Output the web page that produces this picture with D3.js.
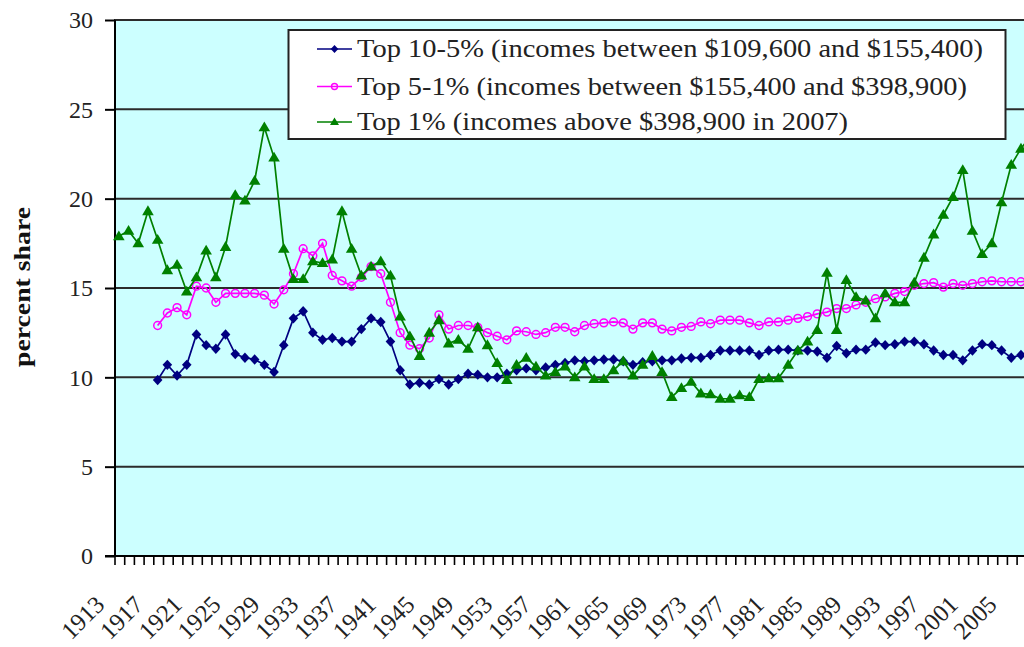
<!DOCTYPE html>
<html>
<head>
<meta charset="utf-8">
<script src="https://cdn.jsdelivr.net/npm/d3@7"></script>
<style>
  html, body { margin: 0; padding: 0; background: #ffffff; }
  svg { display: block; }
</style>
</head>
<body>
<svg id="chart" width="1024" height="647"></svg>
<script>
const FONT = "'Liberation Serif', 'Times New Roman', Times, 'DejaVu Serif', serif";
// ---------- DATA ----------
const years = d3.range(1913, 2008);
const yTicks = [0, 5, 10, 15, 20, 25, 30];
const xTickLabels = d3.range(1913, 2008, 4);
const seriesNames = [
  "Top 10-5% (incomes between $109,600 and $155,400)",
  "Top 5-1% (incomes between $155,400 and $398,900)",
  "Top 1% (incomes above $398,900 in 2007)"
];
// 1913-1916 have no values for the two lower groups
const top10to5 = [null, null, null, null,
  9.85, 10.7, 10.1, 10.7, 12.4, 11.8, 11.6, 12.4, 11.3, 11.1, 11.0, 10.7, 10.3,
  11.8, 13.3, 13.7, 12.5, 12.1, 12.2, 12.0, 12.0, 12.7, 13.3, 13.1, 12.0, 10.4,
  9.6, 9.7, 9.6, 9.9, 9.6, 9.9, 10.2, 10.15, 10.0, 10.0, 10.2, 10.4, 10.5, 10.4,
  10.55, 10.7, 10.8, 10.95, 10.9, 10.95, 11.0, 11.0, 10.9, 10.7, 10.85, 10.9, 10.95,
  10.95, 11.05, 11.1, 11.1, 11.25, 11.5, 11.5, 11.5, 11.5, 11.25, 11.5, 11.55, 11.55,
  11.5, 11.5, 11.45, 11.1, 11.75, 11.35, 11.55, 11.55, 11.95, 11.8, 11.85, 12.0,
  12.0, 11.85, 11.5, 11.25, 11.25, 10.95, 11.5, 11.85, 11.8, 11.5, 11.1, 11.25, 11.2];
const top5to1 = [null, null, null, null,
  12.9, 13.6, 13.9, 13.5, 15.1, 15.0, 14.2, 14.7, 14.7, 14.7, 14.7, 14.6, 14.1,
  14.9, 15.8, 17.2, 16.8, 17.5, 15.7, 15.4, 15.1, 15.6, 16.2, 15.8, 14.2, 12.5,
  11.8, 11.6, 12.2, 13.5, 12.7, 12.9, 12.9, 12.8, 12.5, 12.3, 12.1, 12.6, 12.55, 12.4,
  12.5, 12.8, 12.8, 12.55, 12.9, 13.0, 13.05, 13.1, 13.05, 12.7, 13.05, 13.05, 12.7,
  12.6, 12.8, 12.85, 13.1, 13.0, 13.2, 13.2, 13.2, 13.05, 12.9, 13.1, 13.1, 13.2,
  13.3, 13.4, 13.55, 13.65, 13.85, 13.85, 14.05, 14.2, 14.4, 14.5, 14.7, 14.8,
  15.15, 15.25, 15.3, 15.05, 15.25, 15.15, 15.25, 15.35, 15.4, 15.35, 15.35, 15.35, 15.4];
const top1 = [17.9, 18.2, 17.5, 19.3,
  17.7, 16.0, 16.3, 14.8, 15.6, 17.1, 15.6, 17.3, 20.2, 19.9, 21.0, 24.0, 22.3,
  17.2, 15.5, 15.5, 16.5, 16.4, 16.6, 19.3, 17.2, 15.7, 16.2, 16.5, 15.7, 13.4,
  12.3, 11.2, 12.5, 13.2, 11.9, 12.1, 11.6, 12.8, 11.8, 10.8, 9.85, 10.7, 11.1, 10.6,
  10.1, 10.3, 10.6, 10.0, 10.6, 9.9, 9.9, 10.4, 10.9, 10.1, 10.7, 11.2, 10.3,
  8.9, 9.4, 9.75, 9.1, 9.05, 8.8, 8.8, 9.0, 8.9, 9.9, 9.95, 9.95, 10.7,
  11.5, 12.0, 12.65, 15.85, 12.65, 15.45, 14.5, 14.3, 13.3, 14.7, 14.2, 14.2,
  15.3, 16.7, 18.0, 19.1, 20.1, 21.6, 18.2, 16.9, 17.5, 19.8, 21.9, 22.8, 23.5];
const seriesColors = ["#000080", "#FF00FF", "#008000"];

// ---------- LAYOUT ----------
const svg = d3.select("#chart");
const plotLeft = 114, step = 9.7;
const plotRight = plotLeft + step * years.length;   // extends beyond the picture edge
const plotTop = 20, plotBottom = 556;

const x = d3.scaleBand().domain(years).range([plotLeft, plotRight]).padding(0);
const y = d3.scaleLinear().domain([0, 30]).range([plotBottom, plotTop]);

svg.append("rect")
  .attr("x", plotLeft + 1).attr("y", plotTop)
  .attr("width", plotRight - plotLeft).attr("height", plotBottom - plotTop)
  .attr("fill", "#CCFFFF");

svg.append("g")
  .selectAll("line")
  .data(yTicks.filter(d => d > 0))
  .join("line")
  .attr("x1", plotLeft).attr("x2", plotRight)
  .attr("y1", d => y(d)).attr("y2", d => y(d))
  .attr("stroke", "#2b2b2b").attr("stroke-width", 2);

const yAxis = d3.axisLeft(y).tickValues(yTicks).tickSize(10).tickPadding(12).tickFormat(d3.format("d"));
const gy = svg.append("g").attr("transform", `translate(${plotLeft + 1},0)`).call(yAxis);
gy.attr("font-family", null);
gy.select(".domain").attr("stroke", "#000").attr("stroke-width", 2).attr("d", `M0,${plotTop}V${plotBottom}`);
gy.selectAll(".tick line").attr("stroke", "#000").attr("stroke-width", 2);
gy.selectAll(".tick text")
  .style("font-family", FONT)
  .attr("font-size", 24).attr("fill", "#222");

const gx = svg.append("g");
gx.append("line")
  .attr("x1", plotLeft - 9).attr("x2", plotRight)
  .attr("y1", plotBottom).attr("y2", plotBottom)
  .attr("stroke", "#000").attr("stroke-width", 2);
gx.selectAll("line.tk")
  .data(years)
  .join("line").attr("class", "tk")
  .attr("x1", d => x(d) + 1).attr("x2", d => x(d) + 1)
  .attr("y1", plotBottom).attr("y2", plotBottom + 9)
  .attr("stroke", "#000").attr("stroke-width", 1.6);

gx.selectAll("text.xl")
  .data(xTickLabels)
  .join("text").attr("class", "xl")
  .attr("transform", d => `translate(${x(d) + x.bandwidth() / 2 - 13},${606}) rotate(-45)`)
  .attr("text-anchor", "end")
  .style("font-family", FONT)
  .attr("font-size", 24.5).attr("fill", "#222")
  .text(d => d);

svg.append("text")
  .attr("transform", `translate(30,287) rotate(-90)`)
  .attr("text-anchor", "middle")
  .style("font-family", FONT)
  .attr("font-size", 24).attr("font-weight", "bold").attr("fill", "#111")
  .attr("textLength", 160).attr("lengthAdjust", "spacingAndGlyphs")
  .text("percent share");

// ---------- SERIES ----------
const cx = d => x(d) + x.bandwidth() / 2;
const diamond = "M0,-5.2L4.8,0L0,5.2L-4.8,0Z";
const triangle = "M0,-5.8L5.8,4L-5.8,4Z";
const allSeries = [top10to5, top5to1, top1];

const line = d3.line()
  .defined(d => d.v != null)
  .x(d => cx(d.year)).y(d => y(d.v));

allSeries.forEach((vals, i) => {
  const pts = years.map((yr, j) => ({ year: yr, v: vals[j] }));
  const g = svg.append("g");
  g.append("path").datum(pts)
    .attr("d", line).attr("fill", "none")
    .attr("stroke", seriesColors[i]).attr("stroke-width", 1.7);
  const valid = pts.filter(p => p.v != null);
  if (i === 1) {
    g.selectAll("circle").data(valid).join("circle")
      .attr("cx", p => cx(p.year)).attr("cy", p => y(p.v))
      .attr("r", 3.9).attr("fill", "none")
      .attr("stroke", seriesColors[i]).attr("stroke-width", 1.5);
  } else {
    g.selectAll("path.m").data(valid).join("path").attr("class", "m")
      .attr("d", i === 0 ? diamond : triangle)
      .attr("transform", p => `translate(${cx(p.year)},${y(p.v)})`)
      .attr("fill", seriesColors[i]);
  }
});

// ---------- LEGEND ----------
const lg = svg.append("g");
lg.append("rect")
  .attr("x", 288.5).attr("y", 30).attr("width", 717).attr("height", 109)
  .attr("fill", "#fff").attr("stroke", "#222").attr("stroke-width", 2);
const rowY = [49, 86.5, 122];
const textW = [626, 610, 491];
seriesNames.forEach((name, i) => {
  const ry = rowY[i];
  lg.append("line").attr("x1", 317).attr("x2", 352).attr("y1", ry).attr("y2", ry)
    .attr("stroke", seriesColors[i]).attr("stroke-width", 1.6);
  if (i === 1) {
    lg.append("circle").attr("cx", 334.5).attr("cy", ry).attr("r", 3)
      .attr("fill", "none").attr("stroke", seriesColors[i]).attr("stroke-width", 1.4);
  } else {
    lg.append("path").attr("d", i === 0 ? "M0,-4L3.8,0L0,4L-3.8,0Z" : "M0,-4.5L4.5,3L-4.5,3Z")
      .attr("transform", `translate(334.5,${ry})`).attr("fill", seriesColors[i]);
  }
  lg.append("text")
    .attr("x", 357).attr("y", ry + 8)
    .style("font-family", FONT)
    .attr("font-size", 25).attr("fill", "#222")
    .attr("textLength", textW[i]).attr("lengthAdjust", "spacingAndGlyphs")
    .text(name);
});
</script>
</body>
</html>
